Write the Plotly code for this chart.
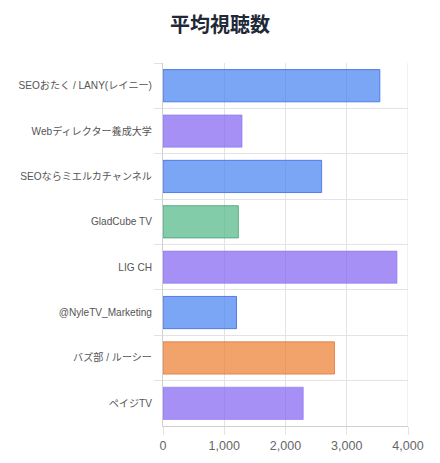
import plotly.graph_objects as go

channels = [
    "SEOおたく / LANY(レイニー)",
    "Webディレクター養成大学",
    "SEOならミエルカチャンネル",
    "GladCube TV",
    "LIG CH",
    "@NyleTV_Marketing",
    "バズ部 / ルーシー",
    "ペイジTV",
]
avg_views = [3540, 1290, 2590, 1230, 3820, 1200, 2800, 2290]
fill_colors = [
    "rgba(65,128,241,0.7)",
    "rgba(128,95,241,0.7)",
    "rgba(65,128,241,0.7)",
    "rgba(78,182,134,0.7)",
    "rgba(128,95,241,0.7)",
    "rgba(65,128,241,0.7)",
    "rgba(237,124,45,0.7)",
    "rgba(128,95,241,0.7)",
]
line_colors = [
    "rgba(65,110,225,0.85)",
    "rgba(140,115,245,0.6)",
    "rgba(65,110,225,0.85)",
    "rgba(70,160,115,0.8)",
    "rgba(140,115,245,0.6)",
    "rgba(65,110,225,0.85)",
    "rgba(225,120,60,0.8)",
    "rgba(140,115,245,0.6)",
]
x_ticks = [0, 1000, 2000, 3000, 4000]

LABEL_FONT = "Liberation Sans, Arial, Noto Sans CJK JP, sans-serif"

fig = go.Figure(
    go.Bar(
        x=avg_views,
        y=channels,
        orientation="h",
        marker=dict(color=fill_colors, line=dict(color=line_colors, width=1)),
        hoverinfo="x+y",
    )
)

fig.update_layout(
    width=432,
    height=455,
    margin=dict(l=155, r=32, t=55, b=37, autoexpand=False),
    paper_bgcolor="white",
    plot_bgcolor="white",
    bargap=0.29,
    showlegend=False,
    font=dict(family=LABEL_FONT, color="#666666"),
    title=dict(
        text="<b>平均視聴数</b>",
        xref="container",
        yref="container",
        x=0.491,
        xanchor="center",
        y=0.963,
        yanchor="middle",
        font=dict(size=20, color="#1f2937", family="Noto Sans CJK JP, sans-serif"),
    ),
)

fig.update_xaxes(
    range=[0, 4000],
    tickvals=x_ticks,
    tickformat=",",
    showgrid=True,
    gridcolor="#e3e3e3",
    gridwidth=1,
    zeroline=False,
    showline=True,
    linecolor="#d0d0d0",
    linewidth=1,
    ticks="outside",
    ticklen=8,
    tickcolor="#e3e3e3",
    tickfont=dict(size=12.5, color="#666666", family=LABEL_FONT),
    fixedrange=True,
)

fig.update_yaxes(
    autorange="reversed",
    tickson="boundaries",
    showgrid=True,
    gridcolor="#e3e3e3",
    gridwidth=1,
    showline=True,
    linecolor="#d0d0d0",
    linewidth=1,
    ticks="outside",
    ticklen=8,
    tickcolor="#e3e3e3",
    ticklabelstandoff=8,
    tickfont=dict(size=10.1, color="#555555", family=LABEL_FONT),
    fixedrange=True,
)

fig.add_shape(
    type="line", xref="x", yref="paper", x0=4000, x1=4000, y0=0, y1=1,
    line=dict(color="#e3e3e3", width=1), layer="below",
)

fig.write_html("out.html", config={"displayModeBar": False})
